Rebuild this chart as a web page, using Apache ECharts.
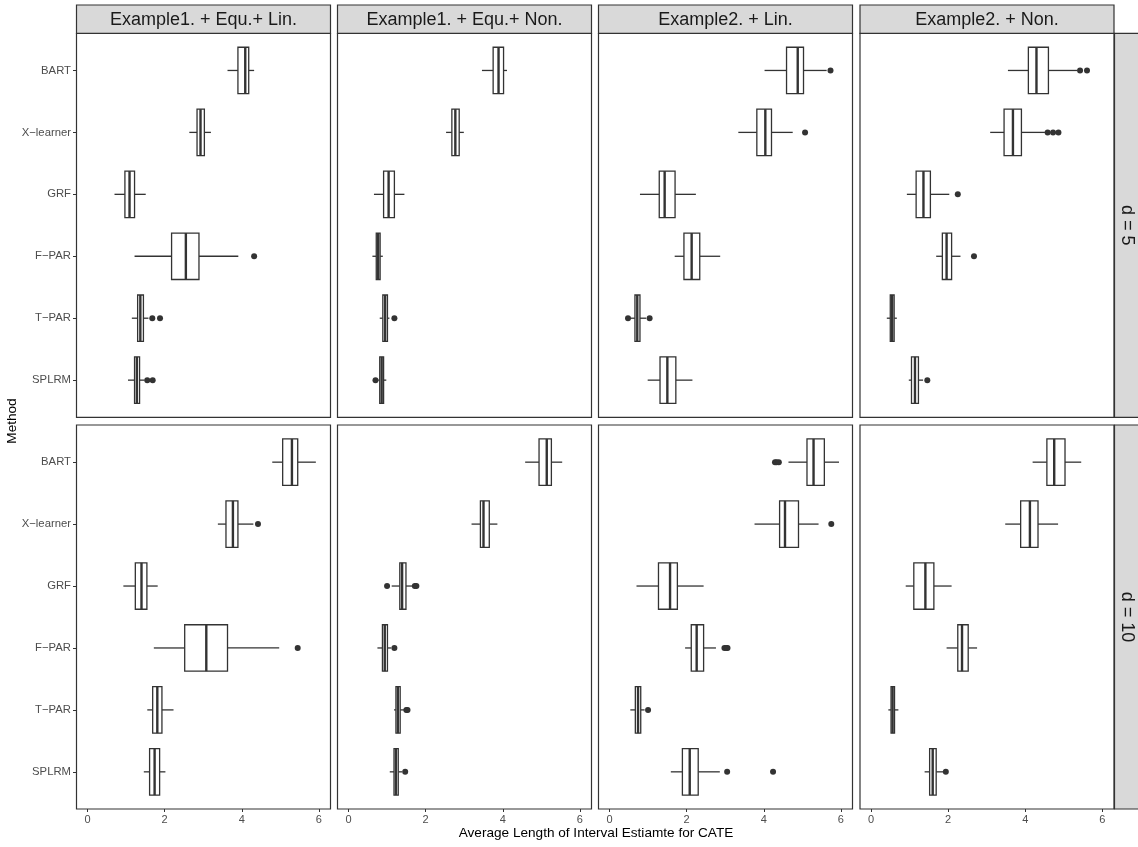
<!DOCTYPE html>
<html>
<head>
<meta charset="utf-8">
<script src="https://cdn.jsdelivr.net/npm/echarts@6/dist/echarts.min.js"></script>
<style>html,body{margin:0;padding:0;background:#fff}#c{width:1138px;height:847px}</style>
</head>
<body>
<div id="c"></div>
<script>
// ---- data ----
const methods = ['BART', 'X\u2212learner', 'GRF', 'F\u2212PAR', 'T\u2212PAR', 'SPLRM'];
const colTitles = ['Example1. + Equ.+ Lin.', 'Example1. + Equ.+ Non.', 'Example2. + Lin.', 'Example2. + Non.'];
const rowTitles = ['d = 5', 'd = 10'];
const xTicks = [0, 2, 4, 6];
const xTitle = 'Average Length of Interval Estiamte for CATE';
const yTitle = 'Method';

// boxes: [lower whisker, q1, median, q3, upper whisker] per method (BART..SPLRM)
const d5Ex1Lin = [[3.63,3.90,4.09,4.18,4.32],[2.64,2.84,2.93,3.03,3.20],[0.70,0.97,1.09,1.22,1.51],[1.22,2.18,2.55,2.89,3.91],[1.15,1.30,1.37,1.45,1.58],[1.05,1.22,1.28,1.35,1.48]];
const d5Ex1Non = [[3.46,3.75,3.89,4.02,4.11],[2.53,2.68,2.77,2.87,2.99],[0.66,0.91,1.04,1.19,1.45],[0.62,0.72,0.77,0.82,0.89],[0.81,0.89,0.95,1.01,1.06],[0.77,0.81,0.86,0.91,0.98]];
const d5Ex2Lin = [[4.02,4.59,4.88,5.03,5.63],[3.34,3.82,4.04,4.20,4.75],[0.79,1.29,1.43,1.70,2.24],[1.69,1.93,2.13,2.34,2.87],[0.55,0.66,0.72,0.79,0.95],[0.99,1.31,1.50,1.72,2.15]];
const d5Ex2Non = [[3.55,4.08,4.29,4.60,5.35],[3.09,3.45,3.68,3.90,4.51],[0.93,1.17,1.36,1.54,2.03],[1.69,1.85,1.96,2.09,2.32],[0.41,0.50,0.55,0.60,0.67],[0.98,1.05,1.14,1.23,1.35]];
const d10Ex1Lin = [[4.79,5.06,5.30,5.45,5.92],[3.38,3.59,3.77,3.90,4.30],[0.93,1.24,1.40,1.54,1.82],[1.72,2.52,3.08,3.63,4.97],[1.55,1.69,1.81,1.93,2.23],[1.46,1.61,1.74,1.87,2.02]];
const d10Ex1Non = [[4.58,4.94,5.14,5.26,5.54],[3.19,3.42,3.50,3.65,3.86],[1.12,1.33,1.39,1.49,1.67],[0.75,0.88,0.94,1.01,1.11],[1.18,1.23,1.28,1.34,1.45],[1.07,1.18,1.23,1.29,1.39]];
const d10Ex2Lin = [[4.64,5.12,5.29,5.57,5.95],[3.76,4.41,4.55,4.90,5.42],[0.70,1.27,1.57,1.76,2.44],[1.96,2.12,2.26,2.44,2.76],[0.54,0.67,0.74,0.81,0.91],[1.59,1.89,2.08,2.30,2.86]];
const d10Ex2Non = [[4.19,4.56,4.75,5.03,5.45],[3.48,3.88,4.12,4.33,4.85],[0.90,1.11,1.41,1.63,2.09],[1.96,2.25,2.36,2.52,2.75],[0.45,0.52,0.56,0.61,0.71],[1.39,1.52,1.60,1.69,1.87]];

// outliers: [value, method index 0..5]
const d5Ex1LinOut = [[4.32,3],[1.68,4],[1.88,4],[1.55,5],[1.69,5]];
const d5Ex1NonOut = [[1.19,4],[0.70,5]];
const d5Ex2LinOut = [[5.73,0],[5.07,1],[0.48,4],[1.04,4]];
const d5Ex2NonOut = [[5.42,0],[5.60,0],[4.58,1],[4.72,1],[4.86,1],[2.25,2],[2.67,3],[1.46,5]];
const d10Ex1LinOut = [[4.42,1],[5.45,3]];
const d10Ex1NonOut = [[1.00,2],[1.72,2],[1.76,2],[1.19,3],[1.50,4],[1.53,4],[1.47,5]];
const d10Ex2LinOut = [[4.29,0],[4.33,0],[4.39,0],[5.75,1],[2.98,3],[3.03,3],[3.06,3],[1.00,4],[3.05,5],[4.24,5]];
const d10Ex2NonOut = [[1.94,5]];

const panelBoxes = [d5Ex1Lin, d5Ex1Non, d5Ex2Lin, d5Ex2Non, d10Ex1Lin, d10Ex1Non, d10Ex2Lin, d10Ex2Non];
const panelOut = [d5Ex1LinOut, d5Ex1NonOut, d5Ex2LinOut, d5Ex2NonOut, d10Ex1LinOut, d10Ex1NonOut, d10Ex2LinOut, d10Ex2NonOut];

// ---- layout ----
const colLeft = [76.5, 337.5, 598.5, 860];
const panelW = 254;
const rowTop = [33.3, 425];
const panelH = 384;
const stripTop = 5;
const stripRight = 1114.5;
const dark = '#333333';
const fontFam = '"Liberation Sans", Arial, sans-serif';

function renderBox(params, api) {
  const c = api.value(0);
  const p = [1, 2, 3, 4, 5].map(k => api.coord([api.value(k), c]));
  const h = api.size([0, 0.75])[1];
  const y = p[0][1];
  return {
    type: 'group',
    children: [
      { type: 'line', shape: { x1: p[0][0], y1: y, x2: p[1][0], y2: y }, style: { stroke: dark, lineWidth: 1.3 } },
      { type: 'line', shape: { x1: p[3][0], y1: y, x2: p[4][0], y2: y }, style: { stroke: dark, lineWidth: 1.3 } },
      { type: 'rect', shape: { x: p[1][0], y: y - h / 2, width: p[3][0] - p[1][0], height: h }, style: { fill: '#ffffff', stroke: dark, lineWidth: 1.3 } },
      { type: 'line', shape: { x1: p[2][0], y1: y - h / 2, x2: p[2][0], y2: y + h / 2 }, style: { stroke: dark, lineWidth: 2.4 } }
    ]
  };
}

const grids = [], xAxes = [], yAxes = [], series = [], graphics = [];
for (let r = 0; r < 2; r++) {
  for (let c = 0; c < 4; c++) {
    const i = r * 4 + c;
    grids.push({ left: colLeft[c], top: rowTop[r], width: panelW, height: panelH, show: true, borderColor: dark, borderWidth: 1.2, backgroundColor: '#ffffff' });
    xAxes.push({
      type: 'value', gridIndex: i, min: -0.285, max: 6.3, position: 'bottom',
      axisLine: { show: false, onZero: false },
      splitLine: { show: false },
      axisTick: { show: r === 1, length: 3, lineStyle: { color: dark }, customValues: xTicks },
      axisLabel: { show: r === 1, customValues: xTicks, color: '#4D4D4D', fontSize: 11, margin: 5, fontFamily: fontFam }
    });
    yAxes.push({
      type: 'value', gridIndex: i, min: 0.4, max: 6.6, inverse: true, position: 'left',
      axisLine: { show: false, onZero: false },
      splitLine: { show: false },
      axisTick: { show: c === 0, length: 3.5, lineStyle: { color: dark }, customValues: [1, 2, 3, 4, 5, 6] },
      axisLabel: { show: c === 0, customValues: [1, 2, 3, 4, 5, 6], formatter: v => methods[Math.round(v) - 1], color: '#4D4D4D', fontSize: 11.3, margin: 5.5, fontFamily: fontFam }
    });
    series.push({
      type: 'custom', xAxisIndex: i, yAxisIndex: i, renderItem: renderBox, silent: true,
      encode: { x: [1, 2, 3, 4, 5], y: 0 },
      data: panelBoxes[i].map((b, j) => [j + 1].concat(b))
    });
    series.push({
      type: 'scatter', xAxisIndex: i, yAxisIndex: i, symbolSize: 6, silent: true,
      itemStyle: { color: dark, opacity: 1 },
      data: panelOut[i].map(o => [o[0], o[1] + 1])
    });
  }
}

// strips
for (let c = 0; c < 4; c++) {
  graphics.push({ type: 'rect', shape: { x: colLeft[c], y: stripTop, width: panelW, height: rowTop[0] - stripTop }, style: { fill: '#D9D9D9', stroke: dark, lineWidth: 1.2 } });
  graphics.push({ type: 'text', x: colLeft[c] + panelW / 2, y: (stripTop + rowTop[0]) / 2 + 1, style: { text: colTitles[c], fill: '#1A1A1A', font: '18px ' + fontFam, textAlign: 'center', textVerticalAlign: 'middle' } });
}
for (let r = 0; r < 2; r++) {
  graphics.push({ type: 'rect', shape: { x: stripRight, y: rowTop[r], width: 1138 - stripRight + 2, height: panelH }, style: { fill: '#D9D9D9', stroke: dark, lineWidth: 1.2 } });
  graphics.push({ type: 'text', x: stripRight + 12.5, y: rowTop[r] + panelH / 2, rotation: -Math.PI / 2, style: { text: rowTitles[r], fill: '#1A1A1A', font: '18px ' + fontFam, textAlign: 'center', textVerticalAlign: 'middle' } });
}
graphics.push({ type: 'text', x: 596, y: 833, style: { text: xTitle, fill: '#000000', font: '13.6px ' + fontFam, textAlign: 'center', textVerticalAlign: 'middle' } });
graphics.push({ type: 'text', x: 12, y: 421, rotation: Math.PI / 2, style: { text: yTitle, fill: '#000000', font: '13.6px ' + fontFam, textAlign: 'center', textVerticalAlign: 'middle' } });

const chart = echarts.init(document.getElementById('c'), null, { renderer: 'canvas' });
chart.setOption({
  animation: false,
  backgroundColor: '#ffffff',
  grid: grids,
  xAxis: xAxes,
  yAxis: yAxes,
  series: series,
  graphic: graphics
});
</script>
</body>
</html>
